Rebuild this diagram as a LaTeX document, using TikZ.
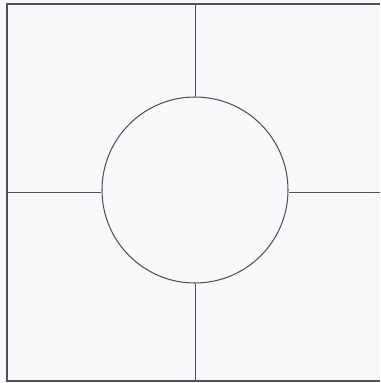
\documentclass[tikz,border=0pt]{standalone}
\usetikzlibrary{calc}

\definecolor{paper}{RGB}{249,249,252}
\definecolor{ink}{RGB}{85,80,85}

\tikzset{
    frame/.style={draw=ink, line width=0.6pt},
    spoke/.style={draw=ink, line width=0.5pt},
    hub/.style={circle, draw=ink, line width=0.6pt, minimum size=186*0.02cm, inner sep=0pt}
}

\begin{document}
\begin{tikzpicture}[x=0.02cm, y=-0.02cm]

    % Fix the page to the reference size
    \fill[paper] (0,0) rectangle (380,383);
    \useasboundingbox (0,0) rectangle (380,383);

    % Corners of the square (right edge falls off the page)
    \coordinate (TL) at (7,4);
    \coordinate (TR) at (380,4);
    \coordinate (BL) at (7,381);
    \coordinate (BR) at (380,381);

    % Draw the square
    \draw[frame] (TR) -- (TL) -- (BL) -- (BR);

    % The circle in the middle
    \node[hub] (C) at (195,190) {};

    % Ends of the cross on the square
    \coordinate (N) at (195,4);
    \coordinate (S) at (195,381);
    \coordinate (W) at (7,192);
    \coordinate (E) at (380,192);

    % Draw the cross up to the circle
    \draw[spoke] (N) -- (C.north);
    \draw[spoke] (S) -- (C.south);
    \draw[spoke] (W) -- (W -| C.west);
    \draw[spoke] (E) -- (E -| C.east);

\end{tikzpicture}
\end{document}
